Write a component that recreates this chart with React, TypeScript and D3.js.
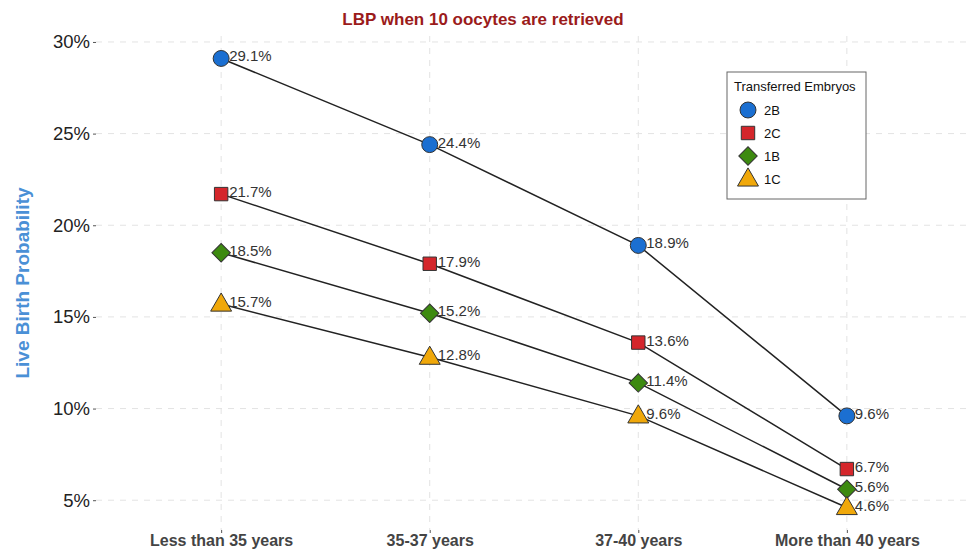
import { useRef, useEffect } from "react";
import * as d3 from "d3";

const ageGroups: string[] = ["Less than 35 years", "35-37 years", "37-40 years", "More than 40 years"];
const seriesNames: string[] = ["2B", "2C", "1B", "1C"];
const values2B: number[] = [29.1, 24.4, 18.9, 9.6];
const values2C: number[] = [21.7, 17.9, 13.6, 6.7];
const values1B: number[] = [18.5, 15.2, 11.4, 5.6];
const values1C: number[] = [15.7, 12.8, 9.6, 4.6];
const yTicks: number[] = [5, 10, 15, 20, 25, 30];

const colors: string[] = ["#1b6fd1", "#d4262b", "#3d8a10", "#f0a80a"];
// diamond = square turned 45 degrees
const shapes: any[] = [d3.symbolCircle, d3.symbolSquare, d3.symbolSquare, d3.symbolTriangle];
const rotations: number[] = [0, 0, 45, 0];
const sizes: number[] = [200, 180, 170, 190];

export default function App() {
    const svgRef = useRef<SVGSVGElement | null>(null);

    useEffect(() => {
        if (!svgRef.current) return;
        const width = 975;
        const margin = { top: 36, right: 3, left: 96 };
        const panelBottom = 530;

        const svg = d3.select(svgRef.current);
        svg.selectAll("*").remove();

        const allSeries = [values2B, values2C, values1B, values1C];

        // discrete x like ggplot, 0.6 expansion each side
        const xScale = d3.scaleLinear()
            .domain([0.4, ageGroups.length + 0.6])
            .range([margin.left, width - margin.right]);

        const yScale = d3.scaleLinear()
            .domain([3.375, 30.325])
            .range([panelBottom, margin.top]);

        const grid = svg.append("g");
        grid.selectAll(".hgrid")
            .data(yTicks)
            .join("line")
            .attr("x1", margin.left)
            .attr("x2", width - margin.right)
            .attr("y1", d => yScale(d))
            .attr("y2", d => yScale(d))
            .attr("stroke", "#e3e3e3")
            .attr("stroke-dasharray", "6,6");
        grid.selectAll(".vgrid")
            .data(ageGroups)
            .join("line")
            .attr("x1", (d, i) => xScale(i + 1))
            .attr("x2", (d, i) => xScale(i + 1))
            .attr("y1", margin.top)
            .attr("y2", panelBottom)
            .attr("stroke", "#e3e3e3")
            .attr("stroke-dasharray", "6,6");

        // y axis
        const yAxis = d3.axisLeft(yScale)
            .tickValues(yTicks)
            .tickSize(3)
            .tickPadding(3)
            .tickFormat((d: any) => d + "%");
        const yg = svg.append("g")
            .attr("transform", `translate(${margin.left},0)`)
            .call(yAxis);
        yg.select(".domain").remove();
        yg.selectAll("line").attr("stroke", "#555");
        yg.selectAll("text")
            .attr("font-family", "Liberation Sans, Arial, sans-serif")
            .attr("font-size", 18.5)
            .attr("fill", "#222");

        // x axis
        const xAxis = d3.axisBottom(xScale)
            .tickValues([1, 2, 3, 4])
            .tickSize(3)
            .tickPadding(2)
            .tickFormat((d: any) => ageGroups[d - 1]);
        const xg = svg.append("g")
            .attr("transform", `translate(0,${panelBottom})`)
            .call(xAxis);
        xg.select(".domain").remove();
        xg.selectAll("line").attr("stroke", "#555");
        xg.selectAll("text")
            .attr("font-family", "Liberation Sans, Arial, sans-serif")
            .attr("font-size", 16)
            .attr("font-weight", "bold")
            .attr("fill", "#444");

        // lines
        const line = d3.line<number>()
            .x((d, i) => xScale(i + 1))
            .y(d => yScale(d));
        svg.append("g")
            .selectAll("path")
            .data(allSeries)
            .join("path")
            .attr("d", d => line(d))
            .attr("fill", "none")
            .attr("stroke", "#222")
            .attr("stroke-width", 1.5);

        // points + labels
        allSeries.forEach((vals, s) => {
            const g = svg.append("g");
            const sym = d3.symbol().type(shapes[s]).size(sizes[s]);
            g.selectAll("path")
                .data(vals)
                .join("path")
                .attr("d", sym as any)
                .attr("transform", (d, i) =>
                    `translate(${xScale(i + 1)},${yScale(d) + (s === 3 ? 1 : 0)}) rotate(${rotations[s]})`)
                .attr("fill", colors[s])
                .attr("stroke", "#333")
                .attr("stroke-width", 1);
            g.selectAll("text")
                .data(vals)
                .join("text")
                .attr("x", (d, i) => xScale(i + 1) + 8)
                .attr("y", d => yScale(d) + 3)
                .attr("font-family", "Liberation Sans, Arial, sans-serif")
                .attr("font-size", 15)
                .attr("fill", "#333")
                .text(d => d.toFixed(1) + "%");
        });

        // title
        svg.append("text")
            .attr("x", 483)
            .attr("y", 25)
            .attr("text-anchor", "middle")
            .attr("font-family", "Liberation Sans, Arial, sans-serif")
            .attr("font-size", 17)
            .attr("font-weight", "bold")
            .attr("fill", "#9b1b1b")
            .text("LBP when 10 oocytes are retrieved");

        // y title
        svg.append("text")
            .attr("transform", `translate(29,${(margin.top + panelBottom) / 2}) rotate(-90)`)
            .attr("text-anchor", "middle")
            .attr("font-family", "Liberation Sans, Arial, sans-serif")
            .attr("font-size", 19)
            .attr("font-weight", "bold")
            .attr("fill", "#4a90d6")
            .text("Live Birth Probability");

        // legend
        const legend = svg.append("g").attr("transform", "translate(727,72)");
        legend.append("rect")
            .attr("width", 139)
            .attr("height", 127)
            .attr("fill", "white")
            .attr("stroke", "#666")
            .attr("stroke-width", 1);
        legend.append("text")
            .attr("x", 7)
            .attr("y", 19)
            .attr("font-family", "Liberation Sans, Arial, sans-serif")
            .attr("font-size", 13)
            .attr("fill", "#111")
            .text("Transferred Embryos");
        seriesNames.forEach((name, s) => {
            const cy = 38 + s * 23;
            legend.append("path")
                .attr("d", d3.symbol().type(shapes[s]).size(sizes[s])() as string)
                .attr("transform", `translate(21,${cy + (s === 3 ? 1 : 0)}) rotate(${rotations[s]})`)
                .attr("fill", colors[s])
                .attr("stroke", "#333")
                .attr("stroke-width", 1);
            legend.append("text")
                .attr("x", 37)
                .attr("y", cy + 5)
                .attr("font-family", "Liberation Sans, Arial, sans-serif")
                .attr("font-size", 13)
                .attr("fill", "#111")
                .text(name);
        });
    }, []);

    return (
        <svg ref={svgRef} width={975} height={550}
            style={{ position: "absolute", left: 0, top: 0, background: "white" }} />
    );
}
